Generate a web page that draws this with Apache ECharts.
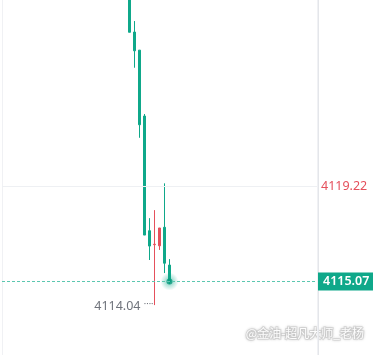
<!DOCTYPE html>
<html>
<head>
<meta charset="utf-8">
<script src="https://cdn.jsdelivr.net/npm/echarts@6/dist/echarts.min.js"></script>
<style>
html,body{margin:0;padding:0;background:#fff;}
#c{width:373px;height:355px;}
</style>
</head>
<body>
<div id="c"></div>
<script>
// ---- data ----
const categories = [
 '09:55','09:56','09:57','09:58','09:59','10:00','10:01','10:02','10:03','10:04',
 '10:05','10:06','10:07','10:08','10:09','10:10','10:11','10:12','10:13','10:14',
 '10:15','10:16','10:17','10:18','10:19','10:20','10:21','10:22','10:23','10:24',
 '10:25','10:26','10:27','10:28','10:29','10:30','10:31','10:32','10:33','10:34',
 '10:35','10:36','10:37','10:38','10:39','10:40','10:41','10:42','10:43','10:44',
 '10:45','10:46','10:47','10:48','10:49','10:50','10:51','10:52','10:53','10:54',
 '10:55','10:56','10:57'
];
const candleTimes = ['10:20','10:21','10:22','10:23','10:24','10:25','10:26','10:27','10:28'];
const openVals  = [4128.55, 4125.97, 4125.18, 4122.30, 4117.29, 4116.68, 4116.63, 4117.44, 4115.79];
const closeVals = [4125.96, 4125.15, 4121.92, 4117.10, 4116.62, 4116.70, 4117.41, 4115.87, 4115.07];
const lowVals   = [4125.96, 4124.41, 4121.35, 4117.10, 4116.01, 4114.04, 4116.45, 4115.44, 4114.96];
const highVals  = [4128.80, 4126.45, 4125.18, 4122.39, 4117.84, 4118.19, 4117.41, 4119.36, 4116.05];
const refLevel = 4119.22;
const lastPrice = 4115.07;
const lowMark = {time: '10:25', value: 4114.04};
const gridLineTime = '10:00';
const yMin = 4111.86, yMax = 4127.37;
const watermark = '@金油-超凡大师_老杨';

const UP = '#e5505c', DOWN = '#0fa88a';
const candleData = candleTimes.map((t, i) => [t, openVals[i], closeVals[i], lowVals[i], highVals[i]]);
const lastTime = candleTimes[candleTimes.length - 1];

const chart = echarts.init(document.getElementById('c'), null, {renderer: 'canvas'});
chart.setOption({
  animation: false,
  backgroundColor: '#ffffff',
  grid: {left: 2, right: 56, top: 0, bottom: 0, containLabel: false},
  xAxis: {
    type: 'category',
    data: categories,
    boundaryGap: true,
    axisLine: {show: false},
    axisTick: {show: false},
    axisLabel: {show: false},
    splitLine: {
      show: true,
      interval: (idx, val) => val === gridLineTime,
      lineStyle: {color: '#f0f1f4', width: 1}
    }
  },
  yAxis: {
    type: 'value',
    position: 'right',
    min: yMin, max: yMax,
    offset: 1,
    axisLine: {show: true, lineStyle: {color: '#e4e6ea'}},
    axisTick: {show: false},
    axisLabel: {show: false},
    splitLine: {show: false}
  },
  series: [
    {
      type: 'candlestick',
      data: candleData,
      encode: {x: 0, y: [1, 2, 3, 4]},
      barWidth: 2,
      clip: true,
      z: 2,
      itemStyle: {color: UP, color0: DOWN, borderColor: UP, borderColor0: DOWN, borderWidth: 1},
      markPoint: {
        silent: true,
        symbol: 'circle',
        symbolSize: 0,
        data: [{
          coord: [lowMark.time, lowMark.value],
          value: lowMark.value,
          label: {
            show: true, position: 'left', distance: 1, offset: [0, 1],
            formatter: '{v|' + lowMark.value.toFixed(2) + '} {d|····}',
            rich: {
              v: {color: '#6f737b', fontSize: 12.5, fontFamily: 'Noto Sans'},
              d: {color: '#6f737b', fontSize: 9, fontFamily: 'Noto Sans', padding: [0, 0, 3, 0]}
            }
          }
        }]
      }
    },
    {
      type: 'scatter',
      data: [[lastTime, lastPrice]],
      symbolSize: 18,
      silent: true,
      z: 1,
      itemStyle: {
        color: new echarts.graphic.RadialGradient(0.5, 0.5, 0.5, [
          {offset: 0, color: 'rgba(15,168,138,0.8)'},
          {offset: 0.5, color: 'rgba(15,168,138,0.35)'},
          {offset: 1, color: 'rgba(15,168,138,0)'}
        ])
      },
      markLine: {
        silent: true,
        symbol: 'none',
        animation: false,
        data: [
          {
            yAxis: refLevel,
            lineStyle: {color: '#eef0f3', type: 'solid', width: 1},
            label: {
              show: true, position: 'end', distance: 4,
              formatter: refLevel.toFixed(2),
              color: UP, fontSize: 12.5, fontFamily: 'Noto Sans'
            }
          },
          {
            yAxis: lastPrice,
            lineStyle: {color: '#5cc7b0', type: [3, 2], width: 1},
            label: {
              show: true, position: 'end', distance: 1,
              formatter: lastPrice.toFixed(2),
              color: '#ffffff', fontSize: 12.5, fontWeight: 600, fontFamily: 'Noto Sans',
              backgroundColor: DOWN, padding: [2, 6, 2, 5], lineHeight: 14
            }
          }
        ]
      }
    },
    {
      type: 'scatter',
      data: [[lastTime, lastPrice]],
      symbolSize: 6,
      silent: true,
      z: 3,
      itemStyle: {color: '#0a9a7d'}
    }
  ],
  graphic: [{
    type: 'text',
    right: 8, bottom: 15,
    silent: true,
    style: {
      text: watermark,
      font: '12px "Noto Sans CJK SC"',
      fill: 'rgba(255,255,255,0.95)',
      stroke: 'rgba(200,200,200,0.5)',
      lineWidth: 2,
      textShadowColor: 'rgba(0,0,0,0.2)',
      textShadowBlur: 3
    }
  }]
});
</script>
</body>
</html>
